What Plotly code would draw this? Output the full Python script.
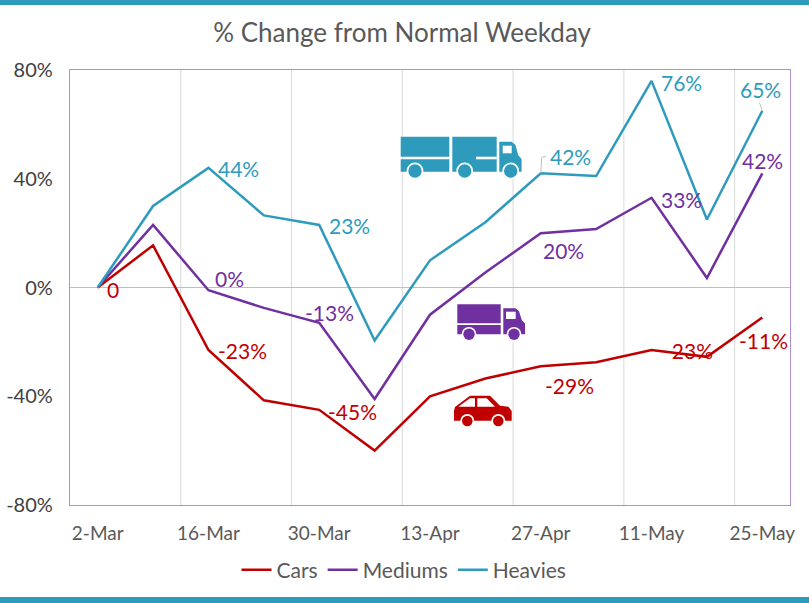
import plotly.graph_objects as go

W, H = 809, 603
L, R, T, B = 70, 790, 70, 505

dates = ["2-Mar", "9-Mar", "16-Mar", "23-Mar", "30-Mar", "6-Apr", "13-Apr",
         "20-Apr", "27-Apr", "4-May", "11-May", "18-May", "25-May"]
tick_dates = ["2-Mar", "16-Mar", "30-Mar", "13-Apr", "27-Apr", "11-May", "25-May"]
grid_positions = [1.5, 3.5, 5.5, 7.5, 9.5, 11.5]

cars = [0, 15.5, -23, -41.5, -45, -60, -40, -33.5, -29, -27.5, -23, -25.5, -11]
mediums = [0, 23, -1, -7.5, -13, -41, -10, 5.5, 20, 21.5, 33, 3.5, 42]
heavies = [0, 30, 44, 26.5, 23, -19.5, 10, 24, 42, 41, 76, 25, 65]

CARS, MEDS, HEAV = "#C00000", "#7030A0", "#2E9BBD"
GREY = "#595959"

# series values, point index, label text, pixel offset of label from the point
car_labels = [(0, "0", 15, 2), (2, "-23%", 34, 0), (4, "-45%", 33, 2),
              (8, "-29%", 29, 19), (10, "-23%", 37, 0), (12, "-11%", 1, 23)]
med_labels = [(2, "0%", 21, -12), (4, "-13%", 10, -10), (8, "20%", 23, 17),
              (10, "33%", 30, 2), (12, "42%", 0, -13)]
heavy_labels = [(2, "44%", 30, 1), (4, "23%", 30, 1), (8, "42%", 30, -17),
                (10, "76%", 30, 2), (12, "65%", -2, -21)]


def px(x):
    return (x - L) / (R - L)


def py(y):
    return (B - y) / (B - T)


def rect(x0, y0, x1, y1, color):
    return dict(type="rect", xref="paper", yref="paper", x0=px(x0), x1=px(x1),
                y0=py(y0), y1=py(y1), fillcolor=color, line_width=0, layer="above")


def circle(cx, cy, r, color):
    return dict(type="circle", xref="paper", yref="paper", x0=px(cx - r), x1=px(cx + r),
                y0=py(cy - r), y1=py(cy + r), fillcolor=color, line_width=0, layer="above")


def poly(points, color):
    d = "M" + " L".join(f"{px(a):.5f},{py(b):.5f}" for a, b in points) + " Z"
    return dict(type="path", xref="paper", yref="paper", path=d, fillcolor=color,
                line_width=0, layer="above")


def wheel(cx, cy, r, color):
    return [circle(cx, cy, r + 1.7, "white"), circle(cx, cy, r, color)]


def truck_cab(x, y, w, h, color):
    return poly([(x, y), (x + w * 0.55, y), (x + w * 0.72, y + h * 0.1), (x + w * 0.85, y + h * 0.45),
                 (x + w, y + h * 0.58), (x + w, y + h), (x, y + h)], color)


shapes = []
# frame bars
shapes.append(rect(0, 0, W, 5, HEAV))
shapes.append(rect(0, 597, W, H, HEAV))
# grid
for g in grid_positions:
    shapes.append(dict(type="line", xref="x", yref="paper", x0=g, x1=g, y0=0, y1=1,
                       line=dict(color="#D9D9D9", width=1), layer="below"))

# heavy truck
shapes += [rect(400.7, 136.7, 449.3, 156.7, HEAV), rect(400.7, 159.3, 449.3, 171.7, HEAV),
           rect(452.3, 136.7, 496.7, 171.7, HEAV), rect(476, 156.7, 496.7, 159.3, "white"),
           truck_cab(499.3, 141.7, 22.3, 30, HEAV), rect(502.7, 145.7, 511.7, 153.3, "white")]
for c in (415, 464.7, 510.7):
    shapes += wheel(c, 171, 6.7, HEAV)

# medium truck
shapes += [rect(457.3, 304.3, 500.7, 323.3, MEDS), rect(457.3, 325, 500.7, 334.3, MEDS),
           truck_cab(503.3, 308.3, 21.7, 26, MEDS), rect(506, 311.7, 515.7, 319, "white")]
for c in (469, 514):
    shapes += wheel(c, 334.3, 5.7, MEDS)

# car
shapes.append(poly([(454, 411), (455, 407), (470, 395.7), (490, 395.7), (500, 405.7),
                    (508.3, 406.7), (511.7, 411), (511.7, 420.7), (454, 420.7)], CARS))
shapes.append(poly([(458.3, 406.7), (470, 398.3), (475, 398.3), (475, 406.7)], "white"))
shapes.append(poly([(477.3, 398.3), (486.7, 398.3), (495, 406.7), (477.3, 406.7)], "white"))
for c in (467.3, 498.3):
    shapes += wheel(c, 421, 5.3, CARS)

# leader lines
for idx, vals, path in ((8, heavies, "M0,0 L1,16 L5,17"), (12, heavies, "M0,0 L-2,6 L-3,8")):
    shapes.append(dict(type="path", xref="x", yref="y", xsizemode="pixel", ysizemode="pixel",
                       xanchor=idx, yanchor=vals[idx], path=path,
                       line=dict(color="#BFBFBF", width=1), layer="above"))

annotations = []
for labels, vals, color in ((car_labels, cars, CARS), (med_labels, mediums, MEDS),
                            (heavy_labels, heavies, HEAV)):
    for i, text, dx, dy in labels:
        annotations.append(dict(x=i, y=vals[i], xref="x", yref="y", text=text, showarrow=False,
                                xshift=dx, yshift=-dy, font=dict(color=color, size=21)))

fig = go.Figure()
for name, vals, color in (("Cars", cars, CARS), ("Mediums", mediums, MEDS), ("Heavies", heavies, HEAV)):
    fig.add_trace(go.Scatter(x=dates, y=vals, name=name, mode="lines",
                             line=dict(color=color, width=2.5)))

fig.update_layout(
    width=W, height=H, autosize=False,
    margin=dict(l=L, r=W - R, t=T, b=H - B),
    paper_bgcolor="white", plot_bgcolor="white",
    font=dict(family="Lato, Carlito, sans-serif", color=GREY, size=20),
    title=dict(text="% Change from Normal Weekday", x=0.497, xanchor="center",
               y=1 - 33 / H, yanchor="middle", font=dict(size=26, color=GREY)),
    legend=dict(orientation="h", x=0.4994, xanchor="center", xref="container",
                y=1 - 570 / H, yanchor="middle", yref="container",
                font=dict(size=21, color=GREY), itemwidth=30, tracegroupgap=0,
                bgcolor="rgba(0,0,0,0)"),
    xaxis=dict(type="category", categoryorder="array", categoryarray=dates,
               range=[-0.5, 12.5], tickmode="array", tickvals=tick_dates, ticktext=tick_dates,
               showgrid=False, ticks="", showline=True, mirror=True, linecolor="#B28FD0", linewidth=1.3,
               tickangle=0, tickfont=dict(size=19, color=GREY), ticklabelstandoff=11,
               automargin=False),
    yaxis=dict(range=[-80, 80], tickmode="array", tickvals=[-80, -40, 0, 40, 80],
               ticktext=["-80%", "-40%", "0%", "40%", "80%"],
               showgrid=False, zeroline=True, zerolinecolor="#BFBFBF", zerolinewidth=1,
               ticks="", showline=True, mirror=True, linecolor="#B28FD0", linewidth=1.3,
               tickfont=dict(size=20, color="#404040"), ticklabelstandoff=12, automargin=False),
    shapes=shapes, annotations=annotations,
)

fig.write_html("out.html", config=dict(displayModeBar=False),
               post_script="document.documentElement.style.overflow='hidden';document.body.style.margin='0';")
